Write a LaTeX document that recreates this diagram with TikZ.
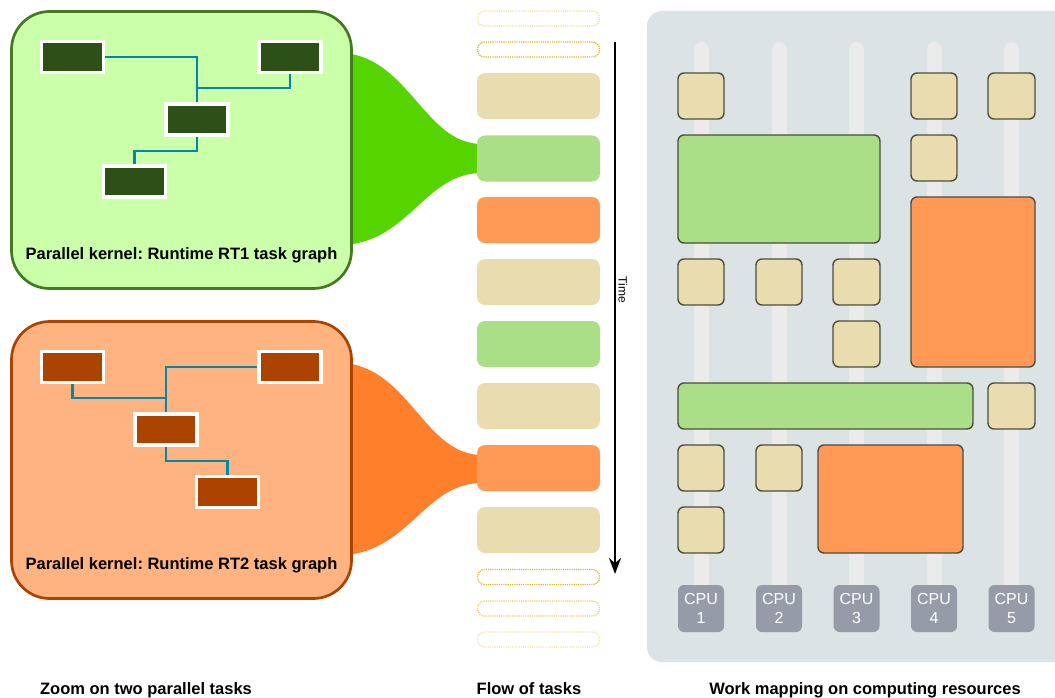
\documentclass[tikz,border=0pt]{standalone}
\usepackage{fontspec}
\setmainfont{Liberation Sans}
\frenchspacing
\usetikzlibrary{arrows.meta}
\definecolor{kgreenfill}{HTML}{CCFFAA}
\definecolor{kgreenline}{HTML}{447821}
\definecolor{funnelgreen}{HTML}{55D400}
\definecolor{taskgreen}{HTML}{2D5016}
\definecolor{korangefill}{HTML}{FFB380}
\definecolor{korangeline}{HTML}{AA4400}
\definecolor{funnelorange}{HTML}{FF7F2A}
\definecolor{taskorange}{HTML}{AA4400}
\definecolor{linkblue}{HTML}{0088AA}
\definecolor{beige}{HTML}{E9DDAF}
\definecolor{flowgreen}{HTML}{AADE87}
\definecolor{floworange}{HTML}{FF9955}
\definecolor{gold}{HTML}{D4AA00}
\definecolor{panelgrey}{HTML}{DBE3E5}
\definecolor{laneback}{HTML}{EBEBEB}
\definecolor{cpugrey}{HTML}{959CA8}
\definecolor{slotline}{HTML}{4D4D3D}
\begin{document}
\begin{tikzpicture}[x=1pt,y=-1pt,
  kernelbox/.style={line width=2.7pt, rounded corners=38pt, minimum width=340pt, minimum height=277pt},
  tasknode/.style={draw=white, line width=3.5pt, minimum width=62pt, minimum height=31pt, inner sep=0pt},
  edge/.style={draw=linkblue, line width=2.2pt},
  flowbox/.style={rounded corners=8pt, minimum width=123pt, minimum height=46pt, inner sep=0pt},
  ghostbox/.style={draw=gold, line width=1.3pt, dash pattern=on 1.1pt off 1.1pt, rounded corners=7pt, minimum width=122pt, minimum height=15pt, inner sep=0pt},
  slot/.style={draw=slotline, line width=1.4pt, rounded corners=6pt},
  lane/.style={draw=laneback, line width=15pt, line cap=round},
  cpubox/.style={fill=cpugrey, rounded corners=6pt, minimum width=46pt, minimum height=47pt, text=white, align=center, font=\fontsize{16}{19}\selectfont, inner sep=0pt},
  caption/.style={font=\bfseries\fontsize{16.5}{19}\selectfont, anchor=base}]
\useasboundingbox (0,0) rectangle (1055,698);

% funnels from the kernels into the flow
\fill[funnelgreen] (345,53) .. controls (410,60) and (425,144) .. (482,144) -- (482,173) .. controls (425,173) and (410,240) .. (345,245) -- cycle;
\fill[funnelorange] (345,363) .. controls (410,370) and (425,455) .. (482,455) -- (482,483) .. controls (425,483) and (410,550) .. (345,555) -- cycle;

% kernel RT1
\node[kernelbox, draw=kgreenline, fill=kgreenfill] (rtone) at (181.5,150) {};
\node[tasknode, fill=taskgreen] (g1) at (72.5,57) {};
\node[tasknode, fill=taskgreen] (g2) at (290,57) {};
\node[tasknode, fill=taskgreen] (g3) at (197,119.5) {};
\node[tasknode, fill=taskgreen] (g4) at (134.5,181.5) {};
\draw[edge] (g1.east) -| (g3.north);
\draw[edge] (g2.south) -- ++(0,14) -| (g3.north);
\draw[edge] (g3.south) -- ++(0,14) -| (g4.north);
\node[caption] (rtonelabel) at (181.5,259) {Parallel kernel: Runtime RT1 task graph};

% kernel RT2
\node[kernelbox, draw=korangeline, fill=korangefill] (rttwo) at (181.5,460) {};
\node[tasknode, fill=taskorange] (o1) at (72.5,367) {};
\node[tasknode, fill=taskorange] (o2) at (290,367) {};
\node[tasknode, fill=taskorange] (o3) at (166,429.5) {};
\node[tasknode, fill=taskorange] (o4) at (227.5,492) {};
\draw[edge] (o1.south) -- ++(0,14) -| (o3.north);
\draw[edge] (o2.west) -| (o3.north);
\draw[edge] (o3.south) -- ++(0,14) -| (o4.north);
\node[caption] (rttwolabel) at (181.5,569) {Parallel kernel: Runtime RT2 task graph};

% flow of tasks
\node[ghostbox, draw opacity=0.4] (d1) at (538.5,18.5) {};
\node[ghostbox, draw opacity=0.9] (d2) at (538.5,49.5) {};
\node[flowbox, fill=beige] (f1) at (538.5,96) {};
\node[flowbox, fill=flowgreen] (f2) at (538.5,158.5) {};
\node[flowbox, fill=floworange] (f3) at (538.5,220) {};
\node[flowbox, fill=beige] (f4) at (538.5,282) {};
\node[flowbox, fill=flowgreen] (f5) at (538.5,344) {};
\node[flowbox, fill=beige] (f6) at (538.5,406) {};
\node[flowbox, fill=floworange] (f7) at (538.5,468) {};
\node[flowbox, fill=beige] (f8) at (538.5,530) {};
\node[ghostbox, draw opacity=0.9] (d3) at (538.5,577) {};
\node[ghostbox, draw opacity=0.6] (d4) at (538.5,608.5) {};
\node[ghostbox, draw opacity=0.35] (d5) at (538.5,639.5) {};

\coordinate (tstart) at (615,42);
\coordinate (tend) at (615,574);
\draw[line width=2.4pt, -{Stealth[length=16pt,width=12pt]}] (tstart) -- (tend);
\node[rotate=-90, font=\fontsize{12}{14}\selectfont] (timelabel) at (623,290) {Time};

% work mapping
\fill[panelgrey, rounded corners=15pt] (647,11) rectangle (1080,662);
\foreach \x in {701.5,779,856.5,934,1011.5}
  \draw[lane] (\x,49.5) -- (\x,590);
\node[cpubox] (cpu1) at (701,608.5) {CPU\\1};
\node[cpubox] (cpu2) at (779,608.5) {CPU\\2};
\node[cpubox] (cpu3) at (856.5,608.5) {CPU\\3};
\node[cpubox] (cpu4) at (934,608.5) {CPU\\4};
\node[cpubox] (cpu5) at (1011.5,608.5) {CPU\\5};

\draw[slot, fill=beige] (678,73) rectangle (724,119);
\draw[slot, fill=beige] (911,73) rectangle (957,119);
\draw[slot, fill=beige] (988,73) rectangle (1035,119);
\draw[slot, fill=flowgreen] (678,135) rectangle (880,243);
\draw[slot, fill=beige] (911,135) rectangle (957,181);
\draw[slot, fill=floworange] (911,197) rectangle (1035,367);
\draw[slot, fill=beige] (678,259) rectangle (724,305);
\draw[slot, fill=beige] (756,259) rectangle (802,305);
\draw[slot, fill=beige] (833,259) rectangle (880,305);
\draw[slot, fill=beige] (833,321) rectangle (880,367);
\draw[slot, fill=flowgreen] (678,383) rectangle (973,429);
\draw[slot, fill=beige] (988,383) rectangle (1035,429);
\draw[slot, fill=beige] (678,445) rectangle (724,491);
\draw[slot, fill=beige] (756,445) rectangle (802,491);
\draw[slot, fill=floworange] (818,445) rectangle (963,553);
\draw[slot, fill=beige] (678,507) rectangle (724,553);

\node[caption] (capzoom) at (146,694) {Zoom on two parallel tasks};
\node[caption] (capflow) at (529,694) {Flow of tasks};
\node[caption] (capwork) at (865,694) {Work mapping on computing resources};
\end{tikzpicture}
\end{document}
